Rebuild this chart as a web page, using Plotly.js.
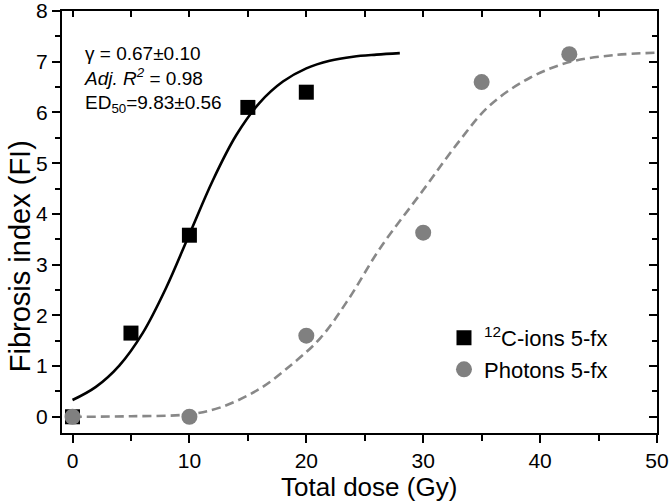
<!DOCTYPE html>
<html>
<head>
<meta charset="utf-8">
<script src="https://cdn.plot.ly/plotly-3.0.1.min.js"></script>
<style>html,body{margin:0;padding:0;background:#fff;}#chart{width:669px;height:503px;}</style>
</head>
<body>
<div id="chart"></div>
<script>
// Measured data
const cDose = [0, 5, 10, 15, 20];
const cFI = [0, 1.65, 3.58, 6.1, 6.4];
const pDose = [0, 10, 20, 30, 35, 42.5];
const pFI = [0, 0, 1.6, 3.63, 6.6, 7.15];
// Fitted curves
const cFitDose = [0, 2, 4, 6, 8, 10, 12, 14, 16, 18, 20, 22, 24, 26, 28];
const cFitFI = [0.33, 0.59, 1.01, 1.65, 2.54, 3.6, 4.66, 5.55, 6.19, 6.61, 6.87, 7.02, 7.1, 7.14, 7.17];
const pFitDose = [0, 5, 10, 12.6, 16, 18.9, 21.2, 23.7, 26.3, 30, 32.9, 35.7, 39.1, 42.6, 46.3, 50];
const pFitFI = [0, 0.01, 0.05, 0.18, 0.55, 1.06, 1.55, 2.35, 3.32, 4.47, 5.38, 6.14, 6.68, 7.0, 7.13, 7.18];
const xTicks = [0, 10, 20, 30, 40, 50];
const yTicks = [0, 1, 2, 3, 4, 5, 6, 7, 8];
const seriesNames = ['<sup>12</sup>C-ions 5-fx', 'Photons 5-fx'];
const xTitle = 'Total dose (Gy)';
const yTitle = 'Fibrosis index (FI)';
const statsText = '\u03b3 = 0.67\u00b10.10<br><i>Adj. R</i><sup><i>2</i></sup> = 0.98<br>ED<sub>50</sub>=9.83\u00b10.56';

const FONT = 'Liberation Sans, Arial, sans-serif';
const traces = [
  {x: cFitDose, y: cFitFI, mode: 'lines', line: {color: '#000', width: 2.6, shape: 'spline', smoothing: 1}, showlegend: false, hoverinfo: 'skip'},
  {x: pFitDose, y: pFitFI, mode: 'lines', line: {color: '#888888', width: 2.6, dash: '9px,5px', shape: 'spline', smoothing: 1}, showlegend: false, hoverinfo: 'skip'},
  {x: cDose, y: cFI, mode: 'markers', name: seriesNames[0], legendgroup: 'a', marker: {symbol: 'square', size: 15, color: '#000'}},
  {x: pDose, y: pFI, mode: 'markers', name: seriesNames[1], legendgroup: 'b', marker: {symbol: 'circle', size: 16, color: '#808080'}},
  {x: [null], y: [null], xaxis: 'x2', yaxis: 'y2', mode: 'markers', showlegend: false, hoverinfo: 'skip'}
];
const axBase = {showgrid: false, zeroline: false, showline: true, linecolor: '#000', linewidth: 2, tickcolor: '#000', tickwidth: 2, ticks: 'outside'};
const layout = {
  width: 669, height: 503,
  margin: {l: 62, r: 12, t: 11, b: 70, pad: 0},
  paper_bgcolor: '#fff', plot_bgcolor: '#fff',
  font: {family: FONT, color: '#000'},
  showlegend: true,
  xaxis: Object.assign({}, axBase, {
    range: [-0.9, 50.001], tickmode: 'array', tickvals: xTicks, ticktext: xTicks.map(String), ticklen: 8,
    ticklabeloverflow: 'allow',
    minor: {dtick: 5, tick0: 0, ticks: 'outside', ticklen: 6, tickwidth: 2, tickcolor: '#000', showgrid: false},
    tickfont: {size: 21, family: FONT}
  }),
  yaxis: Object.assign({}, axBase, {
    range: [-0.32, 8.001], tickmode: 'array', tickvals: yTicks, ticktext: yTicks.map(String), ticklen: 8,
    ticklabeloverflow: 'allow',
    minor: {dtick: 0.5, tick0: 0, ticks: 'outside', ticklen: 5, tickwidth: 2, tickcolor: '#000', showgrid: false},
    tickfont: {size: 21, family: FONT}
  }),
  xaxis2: Object.assign({}, axBase, {
    overlaying: 'x', side: 'top', anchor: 'y2', range: [-0.9, 50.001], dtick: 5, tick0: 0, ticks: 'inside', ticklen: 6, showticklabels: false
  }),
  yaxis2: Object.assign({}, axBase, {
    overlaying: 'y', side: 'right', anchor: 'x2', range: [-0.32, 8.001], dtick: 1, tick0: 0, ticks: 'inside', ticklen: 8, showticklabels: false,
    minor: {dtick: 0.5, tick0: 0, ticks: 'inside', ticklen: 5, tickwidth: 2, tickcolor: '#000', showgrid: false}
  }),
  legend: {x: 0.642, y: 0.275, xanchor: 'left', yanchor: 'top', bgcolor: 'rgba(0,0,0,0)', font: {size: 22, family: FONT}, tracegroupgap: 0, itemwidth: 30},
  annotations: [
    {xref: 'paper', yref: 'paper', x: 0.033, y: 0.928, xanchor: 'left', yanchor: 'top', align: 'left', showarrow: false,
     text: statsText, font: {size: 19, family: FONT, color: '#000'}},
    {xref: 'paper', yref: 'paper', x: 0.516, y: -0.128, xanchor: 'center', yanchor: 'middle', showarrow: false,
     text: xTitle, font: {size: 26, family: FONT, color: '#000'}},
    {xref: 'paper', yref: 'paper', x: -0.0715, y: 0.42, xanchor: 'center', yanchor: 'middle', textangle: -90, showarrow: false,
     text: yTitle, font: {size: 29, family: FONT, color: '#000'}}
  ]
};
Plotly.newPlot('chart', traces, layout, {displayModeBar: false, staticPlot: true});
</script>
</body>
</html>
